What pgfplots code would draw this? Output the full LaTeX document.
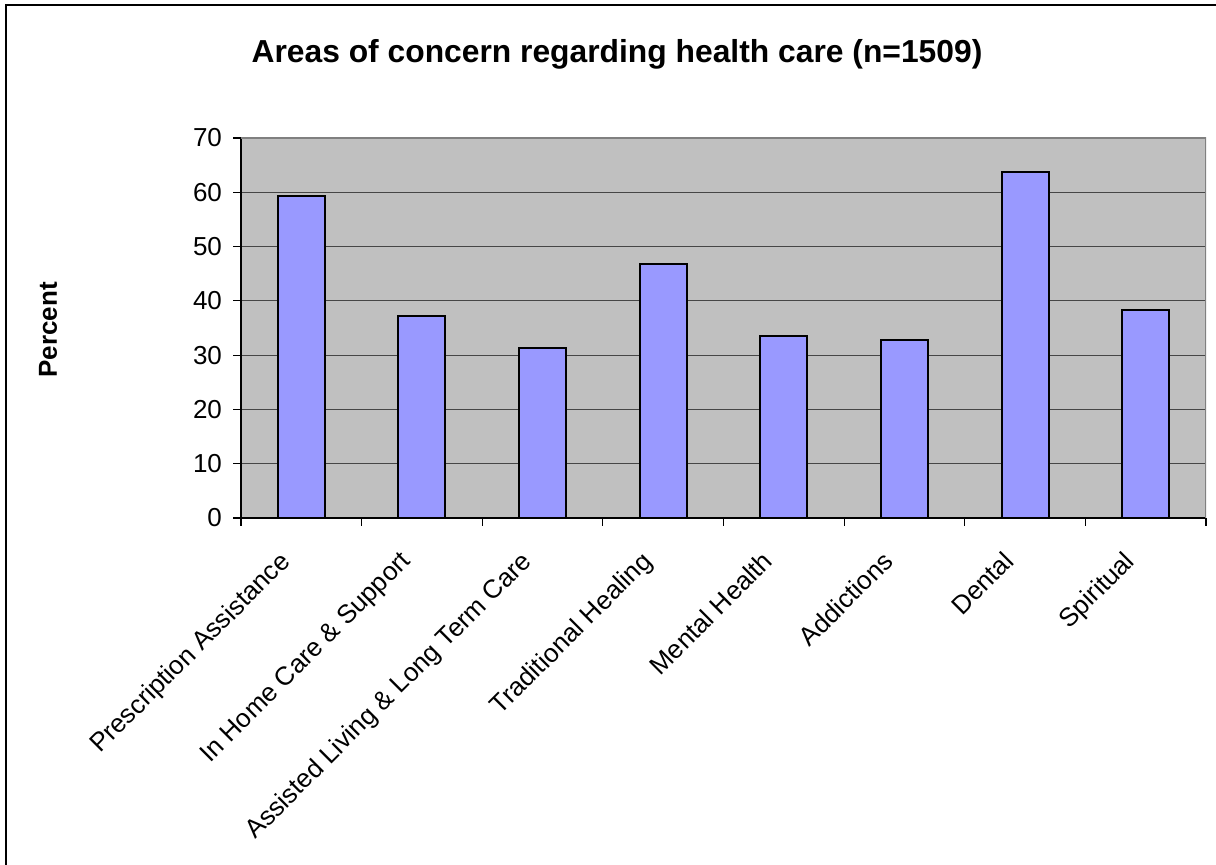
\documentclass[border=0pt]{standalone}
\usepackage{fontspec}
\setmainfont{Liberation Sans}
\usepackage{pgfplots}
\pgfplotsset{compat=1.18}
\definecolor{bg}{RGB}{192,192,192}
\definecolor{barc}{RGB}{153,153,255}
\definecolor{gridc}{RGB}{70,70,70}
\definecolor{framec}{RGB}{128,128,128}
\begin{document}
\begin{tikzpicture}
\useasboundingbox (0,0) rectangle (608pt,432.5pt);
\begin{scope}
\clip (0,0) rectangle (608pt,432.5pt);
\draw[line width=1pt] (3pt,-20pt) rectangle (640pt,430pt);
\end{scope}
\node[font=\bfseries\fontsize{15.9}{18}\selectfont] at (308.5pt,405.5pt) {Areas of concern regarding health care (n=1509)};
\node[font=\bfseries\fontsize{13}{15}\selectfont, rotate=90] at (24pt,267.5pt) {Percent};
\begin{axis}[
  at={(120.5pt,173.5pt)}, anchor=south west,
  scale only axis, width=482.5pt, height=190pt,
  xmin=-0.5, xmax=7.5, ymin=0, ymax=70,
  ytick={0,10,...,70},
  xtick={-0.5,0.5,...,7.5}, xticklabels={},
  extra x ticks={0,1,2,3,4,5,6,7},
  extra x tick labels={Prescription Assistance, In Home Care \& Support, Assisted Living \& Long Term Care, Traditional Healing, Mental Health, Addictions, Dental, Spiritual},
  extra x tick style={major tick length=0pt, grid=none},
  xticklabel style={xshift=-11.6pt, yshift=-14.1pt, rotate=45, anchor=north east, font=\fontsize{13}{15}\selectfont, inner sep=1pt},
  yticklabel style={font=\fontsize{13}{15}\selectfont, xshift=-2pt},
  /pgf/number format/assume math mode=true,
  tick align=outside, major tick length=4pt,
  tick style={black, line width=0.6pt},
  axis lines*=left,
  axis line style={black, line width=0.6pt, -},
  ymajorgrids, major grid style={gridc, line width=0.6pt},
  axis background/.style={fill=bg},
  ybar, bar width=23.5pt,
]
\addplot[fill=barc, draw=black, line width=1pt] coordinates {
  (0,59.3) (1,37.2) (2,31.3) (3,46.8) (4,33.5) (5,32.8) (6,63.7) (7,38.3)};
\draw[framec, line width=1pt] (rel axis cs:0,1) -- (rel axis cs:1,1) -- (rel axis cs:1,0);
\end{axis}
\end{tikzpicture}
\end{document}
